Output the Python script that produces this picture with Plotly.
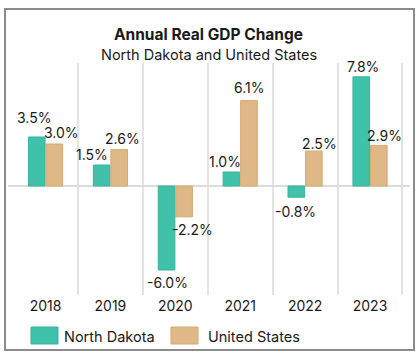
import plotly.graph_objects as go

years = ["2018", "2019", "2020", "2021", "2022", "2023"]
north_dakota = [3.5, 1.5, -6.0, 1.0, -0.8, 7.8]
united_states = [3.0, 2.6, -2.2, 6.1, 2.5, 2.9]
series_names = ["North Dakota", "United States"]

# label nudges in pixels (styling only)
nd_dx = [-3, -10, 1, -7, -1, 1]
nd_dy = [20, 11, -12, 11, -14, 10]
us_dx = [7, 4, 9, 0, 6, 6]
us_dy = [12, 11, -13, 13, 8, 10]

W, H = 420, 354
ND_FILL, ND_LINE = "#40c1a9", "#37b59c"
US_FILL, US_LINE = "#dfb887", "#d6aa72"
FONT = "Inter"
TXT = "#1a1a1a"

def px(x):
    return x / W

def py(y):
    return 1 - y / H

xs = list(range(len(years)))
fig = go.Figure()
fig.add_trace(go.Bar(x=xs, y=north_dakota, name=series_names[0],
                     marker=dict(color=ND_FILL, line=dict(color=ND_LINE, width=1)),
                     showlegend=False))
fig.add_trace(go.Bar(x=xs, y=united_states, name=series_names[1],
                     marker=dict(color=US_FILL, line=dict(color=US_LINE, width=1)),
                     showlegend=False))

off = 0.131
anns = []
for i, v in enumerate(north_dakota):
    anns.append(dict(x=i - off, y=v, xref="x", yref="y", text=f"{v:.1f}%",
                     showarrow=False, xshift=nd_dx[i], yshift=nd_dy[i],
                     font=dict(family=FONT, size=14, color=TXT)))
for i, v in enumerate(united_states):
    anns.append(dict(x=i + off, y=v, xref="x", yref="y", text=f"{v:.1f}%",
                     showarrow=False, xshift=us_dx[i], yshift=us_dy[i],
                     font=dict(family=FONT, size=14, color=TXT)))

# title & subtitle
anns.append(dict(x=0.497, y=py(23), xref="paper", yref="paper", text="<b>Annual Real GDP Change</b>",
                 showarrow=False, font=dict(family=FONT, size=15.5, color=TXT)))
anns.append(dict(x=0.497, y=py(44), xref="paper", yref="paper", text="North Dakota and United States",
                 showarrow=False, font=dict(family=FONT, size=14.5, color=TXT)))

# legend text
anns.append(dict(x=px(62), y=py(336), xref="paper", yref="paper", text=series_names[0],
                 xanchor="left", yanchor="middle", showarrow=False,
                 font=dict(family=FONT, size=14.5, color=TXT)))
anns.append(dict(x=px(206), y=py(336), xref="paper", yref="paper", text=series_names[1],
                 xanchor="left", yanchor="middle", showarrow=False,
                 font=dict(family=FONT, size=14.5, color=TXT)))

shapes = [
    dict(type="rect", xref="paper", yref="paper", x0=px(5), x1=px(414), y0=py(350), y1=py(9),
         line=dict(color="#8c8c8c", width=2), fillcolor="rgba(0,0,0,0)", layer="below"),
    dict(type="rect", xref="paper", yref="paper", x0=px(31), x1=px(58), y0=py(344), y1=py(327),
         line=dict(color=ND_LINE, width=1), fillcolor=ND_FILL),
    dict(type="rect", xref="paper", yref="paper", x0=px(171), x1=px(198), y0=py(344), y1=py(327),
         line=dict(color=US_LINE, width=1), fillcolor=US_FILL),
]

fig.update_layout(
    width=W, height=H,
    margin=dict(l=0, r=0, t=0, b=0),
    paper_bgcolor="white", plot_bgcolor="white",
    barmode="group", bargap=0.46, bargroupgap=0.05,
    annotations=anns, shapes=shapes,
    showlegend=False,
    xaxis=dict(domain=[px(8), px(410)], range=[-0.578, 5.616],
               tickmode="array", tickvals=xs, ticktext=years,
               showgrid=False, zeroline=False, showline=False, ticks="",
               tickfont=dict(family=FONT, size=14, color=TXT), ticklabelstandoff=1,
               minor=dict(tickmode="array", tickvals=[i + 0.5 for i in xs],
                          showgrid=True, gridcolor="#e3e3e3", gridwidth=2, ticks="")),
    yaxis=dict(domain=[py(295), py(63)], range=[-7.786, 8.786],
               showgrid=False, showticklabels=False, zeroline=True,
               zerolinecolor="#dcdcdc", zerolinewidth=2),
)

fig.write_html("out.html")
